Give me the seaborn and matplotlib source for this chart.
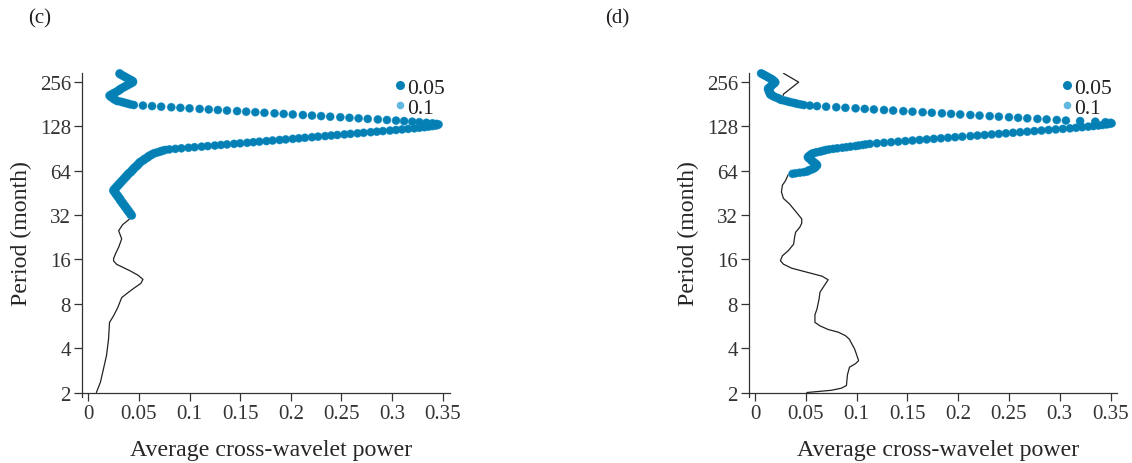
import numpy as np
import matplotlib
matplotlib.use("Agg")
import matplotlib.pyplot as plt
from matplotlib.lines import Line2D
import seaborn as sns

# ---------------------------------------------------------------------------
# Data
# ---------------------------------------------------------------------------
# Wavelet scale grid: periods start at 2 months, 80 scales per octave.
DJ = 1 / 80

# (c) global cross-wavelet power, non-significant part (period in months)
line_period_c = [2.0, 2.35, 2.89, 3.56, 4.59, 5.98, 6.63, 7.5, 8.8, 9.6, 10.3,
                 11.0, 11.7, 12.5, 13.4, 14.8, 15.6, 16.2, 17.5, 19.3, 22.0,
                 25.0, 27.5, 30.1, 31.6]
line_power_c = [0.008, 0.012, 0.015, 0.018, 0.020, 0.021, 0.025, 0.029, 0.033,
                0.040, 0.046, 0.052, 0.054, 0.049, 0.041, 0.028, 0.025, 0.025,
                0.027, 0.030, 0.033, 0.030, 0.034, 0.041, 0.043]

# (c) significant scales: index of the first one on the grid, then power
dots_first_index_c = 319
dots_power_c = [
    0.043, 0.042, 0.042, 0.042, 0.041, 0.041, 0.040, 0.040, 0.040, 0.039,
    0.039, 0.038, 0.038, 0.038, 0.037, 0.037, 0.036, 0.036, 0.036, 0.035,
    0.035, 0.034, 0.034, 0.034, 0.033, 0.033, 0.032, 0.032, 0.032, 0.031,
    0.031, 0.031, 0.030, 0.030, 0.029, 0.029, 0.029, 0.028, 0.028, 0.027,
    0.027, 0.027, 0.026, 0.026, 0.025, 0.025,
    0.025, 0.026, 0.026, 0.027, 0.027, 0.028, 0.028, 0.029, 0.029, 0.030,
    0.030, 0.031, 0.031, 0.032, 0.032, 0.033, 0.033, 0.034, 0.034, 0.035,
    0.035, 0.036, 0.036, 0.037, 0.037, 0.038,
    0.038, 0.039, 0.039, 0.040, 0.040, 0.041, 0.042, 0.042, 0.043, 0.043,
    0.044, 0.044, 0.045, 0.045, 0.046, 0.046, 0.047, 0.048, 0.048, 0.049,
    0.049, 0.050, 0.050, 0.051,
    0.051, 0.052, 0.053, 0.054, 0.055, 0.055, 0.056, 0.057, 0.058, 0.059,
    0.059, 0.060, 0.061, 0.062, 0.063,
    0.064, 0.065, 0.067, 0.069, 0.071, 0.072, 0.074, 0.076,
    0.080, 0.086, 0.092, 0.099, 0.105, 0.112, 0.118, 0.125, 0.131, 0.137,
    0.144, 0.150, 0.157, 0.163, 0.169, 0.176, 0.182, 0.189, 0.195, 0.202,
    0.208, 0.214, 0.221, 0.227, 0.234, 0.240, 0.246, 0.253, 0.259, 0.266,
    0.272, 0.279, 0.285, 0.291, 0.298, 0.304,
    0.310, 0.316, 0.322, 0.327, 0.332, 0.336, 0.340, 0.343, 0.345, 0.346,
    0.344, 0.340, 0.334, 0.327, 0.320, 0.312,
    0.304, 0.295, 0.286, 0.276, 0.267, 0.258, 0.249, 0.239, 0.230, 0.221,
    0.212, 0.202, 0.193, 0.184, 0.174, 0.165, 0.156, 0.147, 0.137, 0.128,
    0.119, 0.110, 0.100, 0.091, 0.082, 0.072, 0.063, 0.054, 0.045,
    0.042, 0.040, 0.038, 0.036, 0.034, 0.032, 0.029,
    0.028, 0.027, 0.026, 0.025, 0.025, 0.024, 0.023, 0.022, 0.022,
    0.021, 0.022, 0.023, 0.024, 0.025, 0.026, 0.027, 0.028, 0.029, 0.030,
    0.031, 0.031, 0.032, 0.033, 0.034, 0.035, 0.036, 0.037, 0.038, 0.039,
    0.040, 0.041, 0.042, 0.043, 0.044, 0.044,
    0.044, 0.043, 0.042, 0.041, 0.040, 0.039, 0.038, 0.037, 0.036, 0.035,
    0.034, 0.033, 0.032, 0.031, 0.031,
]

# (d) global cross-wavelet power, non-significant parts
line_period_d = [2.0, 2.07, 2.14, 2.23, 2.64, 2.97, 3.14, 3.29, 3.61, 3.95,
                 4.44, 4.59, 4.86, 5.13, 5.35, 5.66, 5.98, 6.73, 7.36, 8.57,
                 9.58, 10.56, 11.63, 12.29, 13.09, 13.93, 14.83, 15.67, 16.91,
                 18.38, 20.25, 22.63, 24.42, 26.35, 28.07, 30.07, 33.18, 37.93,
                 41.36, 45.79, 50.86, 54.57, 60.55]
line_power_d = [0.051, 0.075, 0.085, 0.090, 0.091, 0.093, 0.099, 0.102, 0.100,
                0.098, 0.094, 0.093, 0.089, 0.082, 0.072, 0.064, 0.059, 0.059,
                0.061, 0.063, 0.064, 0.068, 0.072, 0.066, 0.051, 0.036, 0.028,
                0.025, 0.027, 0.033, 0.038, 0.039, 0.040, 0.044, 0.046, 0.046,
                0.041, 0.034, 0.028, 0.026, 0.027, 0.030, 0.033]
top_period_d = [196.7, 210.8, 254.2, 292.0]
top_power_d = [0.027, 0.028, 0.043, 0.028]

# (d) significant scales
dots_first_index_d = 394
dots_power_d = [
    0.037, 0.040, 0.044, 0.048,
    0.051, 0.052, 0.053, 0.054, 0.056, 0.057,
    0.058, 0.059, 0.059, 0.060, 0.060, 0.061,
    0.061, 0.060, 0.060, 0.059, 0.058, 0.058,
    0.057, 0.056, 0.056, 0.055, 0.055, 0.054, 0.053, 0.053,
    0.052, 0.053, 0.053, 0.054, 0.055, 0.055, 0.056,
    0.057, 0.059, 0.061, 0.064, 0.066, 0.068, 0.070,
    0.073, 0.077, 0.081, 0.086, 0.090, 0.094,
    0.099, 0.102, 0.106, 0.109,
    0.113, 0.120, 0.127, 0.134, 0.141, 0.148, 0.155, 0.162, 0.169, 0.176,
    0.183, 0.190, 0.197, 0.204, 0.212, 0.219, 0.226, 0.233, 0.240, 0.247,
    0.254, 0.261, 0.268, 0.275, 0.282, 0.289, 0.296, 0.303, 0.310,
    0.316, 0.322, 0.328, 0.333, 0.338, 0.342, 0.346, 0.349, 0.351, 0.350,
    0.345, 0.335, 0.320,
    0.306, 0.297, 0.287, 0.278, 0.268, 0.259, 0.250, 0.240, 0.231, 0.221,
    0.212, 0.202, 0.193, 0.184, 0.174, 0.165, 0.155, 0.146, 0.136, 0.127,
    0.117, 0.108, 0.099, 0.089, 0.080, 0.070, 0.061,
    0.054, 0.048, 0.045, 0.042,
    0.040, 0.038, 0.035, 0.033, 0.031, 0.029, 0.026,
    0.025, 0.024, 0.023, 0.022, 0.020, 0.019, 0.018, 0.017, 0.016,
    0.015, 0.015, 0.015, 0.015, 0.014, 0.014, 0.014, 0.014, 0.014, 0.013,
    0.013,
    0.013, 0.014, 0.015, 0.015, 0.016, 0.016, 0.017, 0.017, 0.018, 0.019,
    0.019, 0.020,
    0.019, 0.019, 0.018, 0.017, 0.017, 0.016, 0.015,
    0.014, 0.013, 0.012, 0.011, 0.010, 0.009, 0.008, 0.007, 0.006,
]

x_ticks = [0, 0.05, 0.1, 0.15, 0.2, 0.25, 0.3, 0.35]
x_tick_labels = ["0", "0.05", "0.1", "0.15", "0.2", "0.25", "0.3", "0.35"]
y_ticks = [2, 4, 8, 16, 32, 64, 128, 256]
y_tick_labels = [str(t) for t in y_ticks]
legend_labels = ["0.05", "0.1"]
panel_labels = ["(c)", "(d)"]


def scale_periods(first_index, n):
    """Periods (months) of consecutive scales on the wavelet grid."""
    return 2.0 * 2.0 ** (DJ * (first_index + np.arange(n)))


# ---------------------------------------------------------------------------
# Style
# ---------------------------------------------------------------------------
sns.set_theme(style="ticks")
plt.rcParams["font.family"] = ["Liberation Serif", "DejaVu Serif"]
plt.rcParams["axes.edgecolor"] = "#333333"
plt.rcParams["xtick.color"] = "#333333"
plt.rcParams["ytick.color"] = "#333333"
plt.rcParams["text.color"] = "#231f20"

DARK = "#0580b5"
LIGHT = "#62b8de"
LINE = "#222222"
TICK_FS = 15
LABEL_FS = 17.2
LEGEND_FS = 15.5

fig = plt.figure(figsize=(11.32, 4.64), dpi=100)
W, H = 1132, 464
ax_c = fig.add_axes([82 / W, (H - 398) / H, 368 / W, 324 / H])
ax_d = fig.add_axes([749 / W, (H - 398) / H, 368 / W, 324 / H])

panels = [
    (ax_c, [(line_period_c, line_power_c)],
     scale_periods(dots_first_index_c, len(dots_power_c)), dots_power_c,
     (-0.0062, 0.3573)),
    (ax_d, [(line_period_d, line_power_d), (top_period_d, top_power_d)],
     scale_periods(dots_first_index_d, len(dots_power_d)), dots_power_d,
     (-0.0059, 0.3563)),
]

for ax, lines, dot_period, dot_power, xlim in panels:
    for per, pw in lines:
        sns.lineplot(x=pw, y=per, sort=False, estimator=None, color=LINE,
                     lw=0.9, ax=ax, legend=False, zorder=2)
    # 10 % level drawn underneath the 5 % level
    sns.scatterplot(x=dot_power, y=dot_period, color=LIGHT, s=40,
                    edgecolor="none", linewidth=0, ax=ax, legend=False,
                    zorder=3, clip_on=False)
    sns.scatterplot(x=dot_power, y=dot_period, color=DARK, s=32,
                    edgecolor="none", linewidth=0, ax=ax, legend=False,
                    zorder=4, clip_on=False)

    ax.set_yscale("log", base=2)
    ax.set_ylim(2 ** 0.899, 2 ** 8.196)
    ax.set_xlim(*xlim)
    ax.set_yticks(y_ticks)
    ax.set_yticklabels(y_tick_labels)
    ax.minorticks_off()
    ax.set_xticks(x_ticks)
    ax.set_xticklabels(x_tick_labels)
    ax.tick_params(axis="both", direction="out", length=6, width=0.9,
                   labelsize=TICK_FS, pad=2)
    sns.despine(ax=ax)
    ax.spines["bottom"].set_position(("data", 2))
    ax.spines["left"].set_linewidth(0.9)
    ax.spines["bottom"].set_linewidth(0.9)

    ax.set_xlabel("Average cross-wavelet power", fontsize=LABEL_FS)
    ax.set_ylabel("Period (month)", fontsize=LABEL_FS)
    ax.xaxis.set_label_coords(0.5136, -0.13)
    ax.yaxis.set_label_coords(-0.135, 0.509)

    handles = [
        Line2D([], [], ls="none", marker="o", ms=6.5, color=DARK, mec="none"),
        Line2D([], [], ls="none", marker="o", ms=5.5, color=LIGHT, mec="none"),
    ]
    ax.legend(handles, legend_labels, loc="upper right",
              bbox_to_anchor=(0.986, 0.985), frameon=False, fontsize=LEGEND_FS,
              handlelength=0.45, handletextpad=0.1, labelspacing=0.0,
              borderpad=0.0, borderaxespad=0.0)

for label, x in zip(panel_labels, [28, 605]):
    fig.text(x / W, 1 - 19 / H, label, fontsize=TICK_FS, ha="left",
             va="center")

fig.savefig("out.png", dpi=100)
